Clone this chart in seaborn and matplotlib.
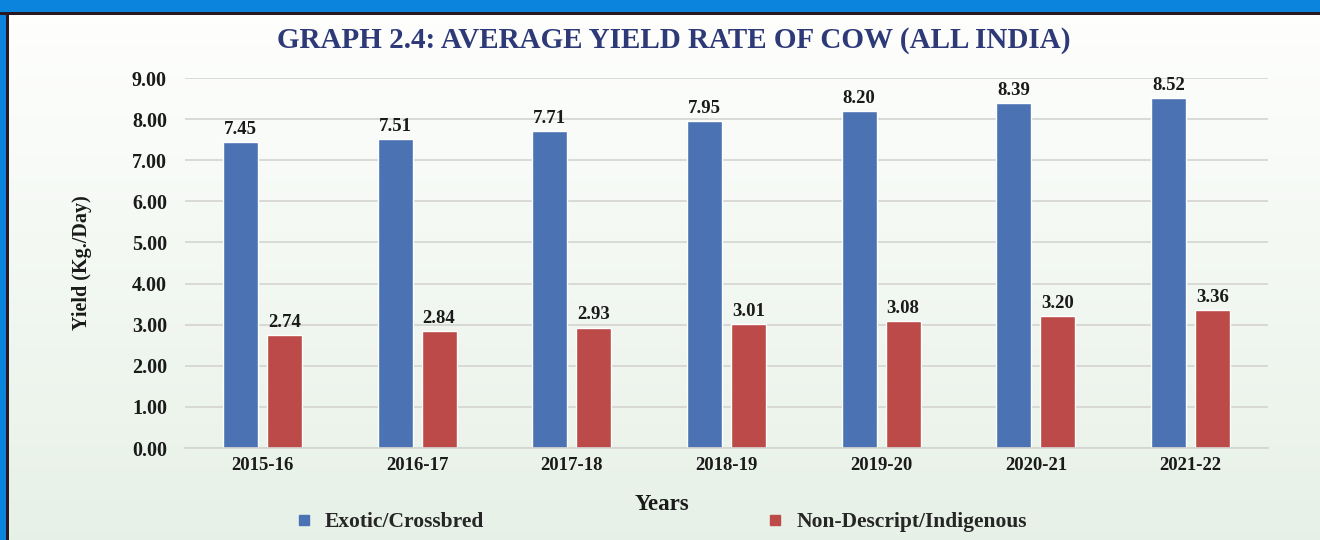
import numpy as np
import pandas as pd
import matplotlib
matplotlib.use("Agg")
import matplotlib.pyplot as plt
from matplotlib.patches import Rectangle
from matplotlib.lines import Line2D
import seaborn as sns

years = ["2015-16", "2016-17", "2017-18", "2018-19", "2019-20", "2020-21", "2021-22"]
exotic = [7.45, 7.51, 7.71, 7.95, 8.20, 8.39, 8.52]
indigenous = [2.74, 2.84, 2.93, 3.01, 3.08, 3.20, 3.36]
series_names = ["Exotic/Crossbred", "Non-Descript/Indigenous"]
y_ticks = [0, 1, 2, 3, 4, 5, 6, 7, 8, 9]

df = pd.DataFrame({
    "Year": years * 2,
    "Yield": exotic + indigenous,
    "Type": [series_names[0]] * len(years) + [series_names[1]] * len(years),
})

sns.set_theme(style="white")
serif = ["Liberation Serif", "DejaVu Serif"]
plt.rcParams["font.family"] = serif

blue = "#4B72B2"
red = "#BC4A48"
navy = "#2E3A78"
ink = "#1A1A1A"

fig = plt.figure(figsize=(13.2, 5.4), dpi=100)

# soft white-to-green background panel
bg = fig.add_axes([0, 0, 1, 1], zorder=-10)
grad = np.linspace(0, 1, 256).reshape(-1, 1)
top_c = np.array([1.0, 1.0, 0.995])
bot_c = np.array([0.905, 0.945, 0.905])
img = top_c + (bot_c - top_c) * grad[..., None]
bg.imshow(img, aspect="auto", extent=[0, 1, 0, 1], origin="upper")
bg.set_xlim(0, 1)
bg.set_ylim(0, 1)
bg.axis("off")

# blue frame with a dark inner rule
bg.add_patch(Rectangle((0, 1 - 12 / 540), 1, 12 / 540, color="#0A84DC", lw=0, zorder=2))
bg.add_patch(Rectangle((0, 1 - 14.5 / 540), 1, 2.5 / 540, color="#2A1820", lw=0, zorder=3))
bg.add_patch(Rectangle((0, 0), 6.5 / 1320, 1, color="#0A84DC", lw=0, zorder=2))
bg.add_patch(Rectangle((6.5 / 1320, 0), 2.5 / 1320, 1 - 12 / 540, color="#2A1820", lw=0, zorder=3))

ax = fig.add_axes([185 / 1320, (540 - 448) / 540, 1083 / 1320, 370 / 540])
ax.patch.set_alpha(0)

sns.barplot(data=df, x="Year", y="Yield", hue="Type", order=years,
            hue_order=series_names, palette=[blue, red],
            width=0.568, gap=0.2045, saturation=1, ax=ax, legend=False)

ax.set_xlim(-0.5, 6.5)
ax.set_ylim(0, 9)
ax.set_yticks(y_ticks)
ax.set_yticklabels([f"{v:.2f}" for v in y_ticks])
ax.yaxis.grid(True, color="#D4D4D0", lw=1.2)
ax.set_axisbelow(True)
for s in ["top", "right", "left"]:
    ax.spines[s].set_visible(False)
ax.spines["bottom"].set_color("#D4D4D0")
ax.spines["bottom"].set_linewidth(1.2)
ax.tick_params(axis="y", length=0, pad=13, labelsize=14.5)
ax.tick_params(axis="x", length=0, pad=6.5, labelsize=13.5)
for lab in ax.get_xticklabels() + ax.get_yticklabels():
    lab.set_fontweight("bold")
    lab.set_color(ink)

for cont in ax.containers:
    ax.bar_label(cont, fmt="%.2f", padding=3, fontsize=13.5,
                 fontweight="bold", color=ink)

ax.set_ylabel("Yield (Kg./Day)", fontsize=14.5, fontweight="bold", color=ink)
ax.yaxis.set_label_coords(-0.0858, 0.5)
ax.set_xlabel("Years", fontsize=16.5, fontweight="bold", color=ink)
ax.xaxis.set_label_coords(0.4404, -0.124)

fig.text(674 / 1320, 1 - 41 / 540, "GRAPH 2.4: AVERAGE YIELD RATE OF COW (ALL INDIA)",
         ha="center", va="center", fontsize=21, fontweight="bold", color=navy)

handles = [Line2D([], [], marker="s", ls="none", color=c, markersize=7) for c in (blue, red)]
fig.legend(handles, series_names, loc="center", bbox_to_anchor=(660 / 1320, 1 - 522 / 540),
           ncol=2, frameon=False, columnspacing=13.0, handlelength=1.0,
           handletextpad=0.5, borderpad=0.2,
           prop={"family": serif, "weight": "bold", "size": 15.5})

fig.savefig("out.png", dpi=100)
